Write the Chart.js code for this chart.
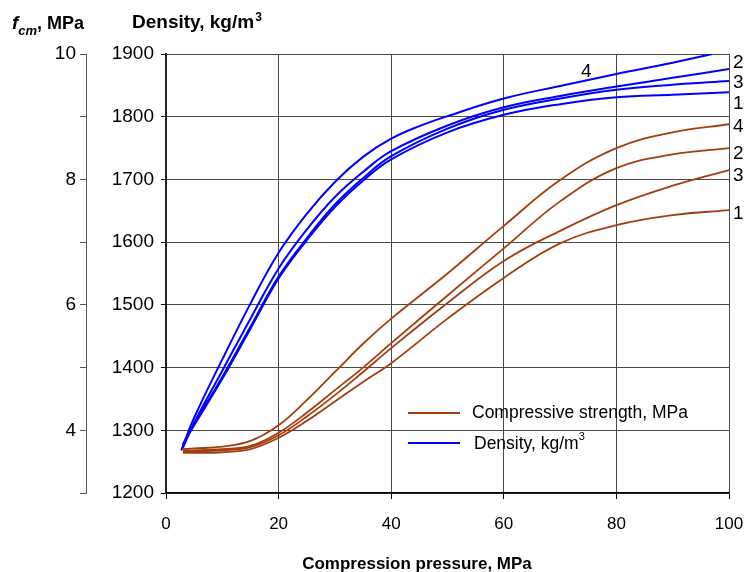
<!DOCTYPE html>
<html lang="en">
<head>
<meta charset="UTF-8">
<title>Density and compressive strength vs compression pressure</title>
<script src="https://cdn.jsdelivr.net/npm/chart.js"></script>
<style>
  html, body { margin: 0; padding: 0; background: #fff; }
  #wrap { width: 749px; height: 572px; }
</style>
</head>
<body>
<div id="wrap"><canvas id="chart" width="749" height="572"></canvas></div>

<script>
// compression pressure, MPa (curve 4 of density runs out of the top at ~97 MPa)
const pressure  = [3, 5, 10, 15, 20, 25, 30, 35, 40, 50, 60, 70, 80, 90, 100];
const pressure4 = [2.7, 5, 10, 15, 20, 25, 30, 35, 40, 45, 50, 60, 70, 80, 90, 97];

// density, kg/m3
const density1 = [1278, 1308, 1382, 1462, 1542, 1603, 1656, 1698, 1732, 1775, 1803, 1820, 1831, 1835, 1839];
const density2 = [1272, 1312, 1395, 1478, 1558, 1620, 1672, 1712, 1745, 1786, 1815, 1833, 1848, 1862, 1876];
const density3 = [1276, 1310, 1385, 1465, 1545, 1606, 1660, 1702, 1737, 1781, 1811, 1829, 1843, 1851, 1857];
const density4 = [1268, 1320, 1413, 1502, 1583, 1645, 1696, 1736, 1765, 1785, 1801, 1829, 1849, 1868, 1886, 1900];

// compressive strength fcm, MPa
const strength1 = [3.64, 3.64, 3.65, 3.70, 3.88, 4.15, 4.46, 4.77, 5.07, 5.78, 6.43, 6.98, 7.27, 7.43, 7.51];
const strength2 = [3.68, 3.68, 3.70, 3.75, 3.96, 4.28, 4.64, 5.00, 5.39, 6.15, 6.90, 7.65, 8.18, 8.40, 8.50];
const strength3 = [3.66, 3.66, 3.68, 3.73, 3.92, 4.22, 4.56, 4.93, 5.31, 6.03, 6.70, 7.18, 7.59, 7.90, 8.15];
const strength4 = [3.70, 3.71, 3.74, 3.83, 4.08, 4.48, 4.93, 5.38, 5.78, 6.50, 7.26, 7.99, 8.50, 8.75, 8.88];

// axis ticks
const pressureTicks = [0, 20, 40, 60, 80, 100];
const densityTicks = [1200, 1300, 1400, 1500, 1600, 1700, 1800, 1900];
const strengthLabels = [4, 6, 8, 10];

const FONT = "'Liberation Sans', Arial, sans-serif";
const BROWN = '#a23e0e';
const BLUE = '#0000ff';
const GRID = '#4a4a4a';

function pts(xs, ys) {
  return xs.map((x, i) => ({ x: x, y: ys[i] }));
}

function curve(label, xs, ys, color, axis) {
  return {
    label: label,
    data: pts(xs, ys),
    borderColor: color,
    borderWidth: color === BLUE ? 2 : 1.8,
    pointRadius: 0,
    fill: false,
    tension: 0.4,
    yAxisID: axis
  };
}

// where each curve number sits, relative to the end of the curve (px)
const tagNudge = {
  d1: [4, 12], d2: [4, -6], d3: [4, 2],
  s1: [4, 4], s2: [4, 6], s3: [4, 6], s4: [4, 3]
};

const textPlugin = {
  id: 'texts',
  afterDraw(chart) {
    const ctx = chart.ctx;
    ctx.save();
    ctx.fillStyle = '#000';

    // curve numbers
    ctx.font = '19px ' + FONT;
    ctx.textBaseline = 'middle';
    ctx.textAlign = 'left';
    chart.data.datasets.forEach((ds, i) => {
      const pts = chart.getDatasetMeta(i).data;
      if (ds.key === 'd4') {
        const p = pts[13];
        ctx.textAlign = 'center';
        ctx.fillText(ds.label, p.x - 30, p.y - 2);
        ctx.textAlign = 'left';
        return;
      }
      const p = pts[pts.length - 1];
      const n = tagNudge[ds.key];
      ctx.fillText(ds.label, p.x + n[0], p.y + n[1]);
    });

    // axis titles
    ctx.textBaseline = 'alphabetic';
    ctx.font = 'italic bold 19px ' + FONT;
    ctx.fillText('f', 12, 29);
    let x = 12 + ctx.measureText('f').width;
    ctx.font = 'italic bold 13px ' + FONT;
    ctx.fillText('cm', x, 35);
    x += ctx.measureText('cm').width;
    ctx.font = 'bold 18px ' + FONT;
    ctx.fillText(', MPa', x, 29);

    ctx.font = 'bold 19px ' + FONT;
    ctx.fillText('Density, kg/m', 132, 28);
    x = 132 + ctx.measureText('Density, kg/m').width + 1;
    ctx.font = 'bold 12px ' + FONT;
    ctx.fillText('3', x, 21);

    ctx.font = 'bold 17px ' + FONT;
    ctx.textAlign = 'center';
    ctx.fillText('Compression pressure, MPa', 417, 569);

    // legend
    ctx.textAlign = 'left';
    ctx.textBaseline = 'middle';
    ctx.lineWidth = 2;
    ctx.strokeStyle = BROWN;
    ctx.beginPath(); ctx.moveTo(408, 413); ctx.lineTo(460, 413); ctx.stroke();
    ctx.strokeStyle = BLUE;
    ctx.beginPath(); ctx.moveTo(408, 443); ctx.lineTo(460, 443); ctx.stroke();
    ctx.font = '17.5px ' + FONT;
    ctx.fillText('Compressive strength, MPa', 472, 413);
    ctx.fillText('Density, kg/m', 474, 444);
    x = 474 + ctx.measureText('Density, kg/m').width;
    ctx.font = '11px ' + FONT;
    ctx.fillText('3', x, 437);
    ctx.restore();
  }
};

const datasets = [
  Object.assign(curve('1', pressure, strength1, BROWN, 'y1'), { key: 's1' }),
  Object.assign(curve('2', pressure, strength2, BROWN, 'y1'), { key: 's2' }),
  Object.assign(curve('3', pressure, strength3, BROWN, 'y1'), { key: 's3' }),
  Object.assign(curve('4', pressure, strength4, BROWN, 'y1'), { key: 's4' }),
  Object.assign(curve('1', pressure, density1, BLUE, 'y'), { key: 'd1' }),
  Object.assign(curve('2', pressure, density2, BLUE, 'y'), { key: 'd2' }),
  Object.assign(curve('3', pressure, density3, BLUE, 'y'), { key: 'd3' }),
  Object.assign(curve('4', pressure4, density4, BLUE, 'y'), { key: 'd4' })
];

new Chart(document.getElementById('chart'), {
  type: 'line',
  data: { datasets: datasets },
  options: {
    responsive: false,
    animation: false,
    layout: { padding: { top: 54, right: 20, left: 0, bottom: 0 } },
    plugins: { legend: { display: false }, tooltip: { enabled: false } },
    scales: {
      x: {
        type: 'linear',
        min: 0, max: 100,
        afterBuildTicks: s => { s.ticks = pressureTicks.map(v => ({ value: v })); },
        afterFit: s => { s.height = 79; s.paddingLeft = 0; s.paddingRight = 0; },
        grid: { color: GRID, lineWidth: 1, tickLength: 6, tickColor: '#000' },
        border: { color: '#000', width: 1.5 },
        ticks: { color: '#000', padding: 15, font: { family: FONT, size: 17 } }
      },
      y: {
        position: 'left',
        weight: 0,
        min: 1200, max: 1900,
        afterBuildTicks: s => { s.ticks = densityTicks.map(v => ({ value: v })); },
        afterFit: s => { s.width = 80; s.paddingTop = 0; s.paddingBottom = 0; },
        grid: { color: GRID, lineWidth: 1, tickLength: 5, tickColor: '#000' },
        border: { color: '#222', width: 2 },
        ticks: {
          color: '#000',
          padding: 7,
          font: { family: FONT, size: 19 },
          callback: v => String(v)
        }
      },
      y1: {
        position: 'left',
        weight: 1,
        min: 3, max: 10,
        afterFit: s => { s.width = 86; s.paddingTop = 0; s.paddingBottom = 0; },
        grid: { drawOnChartArea: false, tickLength: 6, tickColor: '#555' },
        border: { color: '#555', width: 1 },
        ticks: {
          stepSize: 1,
          color: '#000',
          padding: 4,
          font: { family: FONT, size: 19 },
          callback: v => strengthLabels.includes(v) ? String(v) : ''
        }
      }
    }
  },
  plugins: [textPlugin]
});
</script>
</body>
</html>
